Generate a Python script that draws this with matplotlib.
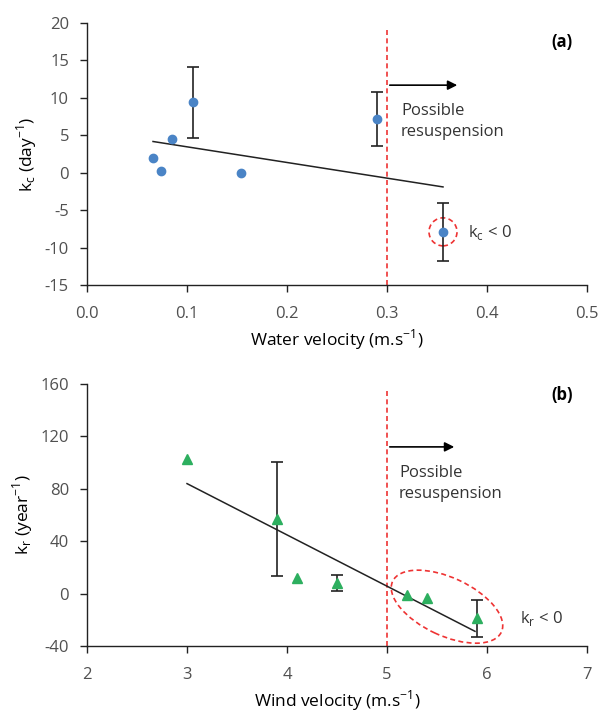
import numpy as np
import matplotlib
matplotlib.use("Agg")
import matplotlib.pyplot as plt
from matplotlib.patches import Ellipse
from matplotlib.transforms import ScaledTranslation

plt.rcParams['font.family'] = ['Open Sans', 'DejaVu Sans']
plt.rcParams['font.size'] = 11
plt.rcParams['text.color'] = '#333333'
plt.rcParams['axes.unicode_minus'] = False

# panel (a): water velocity vs kc
water_vel = [0.066, 0.074, 0.085, 0.106, 0.154, 0.290, 0.356]
kc = [1.9, 0.2, 4.5, 9.4, -0.1, 7.2, -7.9]
kc_err = [0, 0, 0, 4.7, 0, 3.6, 3.9]

# panel (b): wind velocity vs kr
wind_vel = [3.0, 3.9, 4.1, 4.5, 5.2, 5.4, 5.9]
kr = [103, 57, 12, 8, -1, -3, -19]
kr_err = [0, 43.5, 0, 6, 0, 0, 14]

blue = '#4A84C6'
green = '#2DAF5F'
red = '#EE3333'

fig = plt.figure(figsize=(6.01, 7.13), dpi=100)
ax1 = fig.add_axes([0.1448, 0.6003, 0.8319, 0.3674])
ax2 = fig.add_axes([0.1448, 0.0940, 0.8319, 0.3674])


def style(ax):
    for s in ['top', 'right']:
        ax.spines[s].set_visible(False)
    for s in ['left', 'bottom']:
        ax.spines[s].set_color('#222222')
        ax.spines[s].set_linewidth(1.0)
    ax.tick_params(direction='out', length=5, width=1.0, color='#222222',
                   labelcolor='#505050', labelsize=12)
    ax.tick_params(axis='x', pad=10)
    ax.tick_params(axis='y', pad=8)


# ---- (a)
x = np.array(water_vel)
y = np.array(kc)
e = np.array(kc_err)
has = e > 0
ax1.errorbar(x[has], y[has], yerr=e[has], fmt='none', ecolor='#222222',
             elinewidth=1.2, capsize=4, capthick=1.2, zorder=2)
ax1.plot(x, y, 'o', color=blue, markersize=6, zorder=3)
p = np.polyfit(x, y, 1)
xl = np.array([x.min(), x.max()])
ax1.plot(xl, np.polyval(p, xl), color='#222222', lw=1.1, zorder=2)
ax1.plot([0.3, 0.3], [-15, 19.5], color=red, ls=(0, (3, 2)), lw=1.2, zorder=1)
ax1.annotate('', xy=(0.373, 11.7), xytext=(0.3, 11.7),
             arrowprops=dict(arrowstyle='-|>', color='black', lw=1.2, mutation_scale=14))
ax1.text(0.314, 6.8, 'Possible\nresuspension', ha='left', va='center',
         fontsize=12, linespacing=1.4)
ax1.text(0.475, 17.5, '(a)', ha='center', va='center', fontsize=12, fontweight='bold',
         color='black')
circ = Ellipse((0, 0), 0.28, 0.28, fill=False, ec=red, ls=(0, (3, 2)), lw=1.2,
               transform=fig.dpi_scale_trans + ScaledTranslation(x[-1], y[-1], ax1.transData))
ax1.add_patch(circ)
ax1.text(0.381, -8.0, r'k$_\mathregular{c}$ < 0', ha='left', va='center', fontsize=12)
ax1.set_xlim(0, 0.5)
ax1.set_ylim(-15, 20)
ax1.set_xticks(np.arange(0, 0.51, 0.1))
ax1.set_xticklabels(['0.0', '0.1', '0.2', '0.3', '0.4', '0.5'])
ax1.set_yticks(np.arange(-15, 21, 5))
ax1.set_xlabel(r'Water velocity (m.s$^\mathregular{-1}$)', fontsize=12.5, labelpad=4)
ax1.set_ylabel(r'k$_\mathregular{c}$ (day$^\mathregular{-1}$)', fontsize=12.5, labelpad=4)
style(ax1)

# ---- (b)
x = np.array(wind_vel)
y = np.array(kr)
e = np.array(kr_err)
has = e > 0
ax2.errorbar(x[has], y[has], yerr=e[has], fmt='none', ecolor='#222222',
             elinewidth=1.2, capsize=4, capthick=1.2, zorder=2)
ax2.plot(x, y, '^', color=green, markersize=6.5, zorder=3)
p = np.polyfit(x, y, 1)
xl = np.array([x.min(), x.max() - 0.02])
ax2.plot(xl, np.polyval(p, xl), color='#222222', lw=1.1, zorder=2)
ax2.plot([5, 5], [-40, 157], color=red, ls=(0, (3, 2)), lw=1.2, zorder=1)
ax2.annotate('', xy=(5.7, 112), xytext=(5.0, 112),
             arrowprops=dict(arrowstyle='-|>', color='black', lw=1.2, mutation_scale=14))
ax2.text(5.12, 84, 'Possible\nresuspension', ha='left', va='center',
         fontsize=12, linespacing=1.4)
ax2.text(6.75, 151.5, '(b)', ha='center', va='center', fontsize=12, fontweight='bold',
         color='black')
ell = Ellipse((0, 0), 1.2, 0.58, angle=-25, fill=False, ec=red, ls=(0, (3, 2)), lw=1.2,
              transform=fig.dpi_scale_trans + ScaledTranslation(5.6, -10, ax2.transData))
ax2.add_patch(ell)
ax2.text(6.33, -19, r'k$_\mathregular{r}$ < 0', ha='left', va='center', fontsize=12)
ax2.set_xlim(2, 7)
ax2.set_ylim(-40, 160)
ax2.set_xticks(range(2, 8))
ax2.set_yticks(range(-40, 161, 40))
ax2.set_xlabel(r'Wind velocity (m.s$^\mathregular{-1}$)', fontsize=12.5, labelpad=4)
ax2.set_ylabel(r'k$_\mathregular{r}$ (year$^\mathregular{-1}$)', fontsize=12.5, labelpad=4)
style(ax2)

fig.savefig('out.png', dpi=100)
